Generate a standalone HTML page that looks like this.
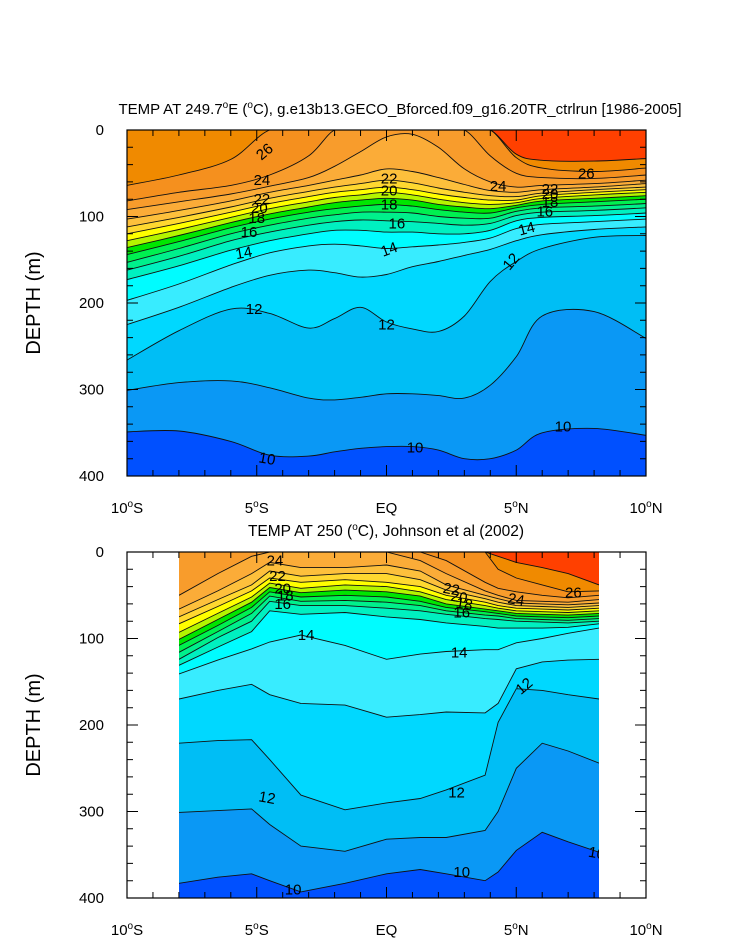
<!DOCTYPE html>
<html><head><meta charset="utf-8"><style>
html,body{margin:0;padding:0;background:#fff;}
svg{display:block;font-family:"Liberation Sans",sans-serif;}
</style></head><body>
<svg id="chart" width="733" height="945" viewBox="0 0 733 945" xmlns="http://www.w3.org/2000/svg">
<defs>
<clipPath id="clipTop"><rect x="127" y="130" width="519" height="346"/></clipPath>
<clipPath id="clipBot"><rect x="179" y="552" width="420" height="346"/></clipPath>
</defs>
<g id="topPlot"></g>
<g id="botPlot"></g>
<text x="400" y="114" font-size="15" text-anchor="middle">TEMP AT 249.7<tspan dy="-6" font-size="10">o</tspan><tspan dy="6">E (</tspan><tspan dy="-6" font-size="10">o</tspan><tspan dy="6">C), g.e13b13.GECO_Bforced.f09_g16.20TR_ctrlrun [1986-2005]</tspan></text>
<text x="386" y="536" font-size="15.5" text-anchor="middle">TEMP AT 250 (<tspan dy="-6" font-size="10">o</tspan><tspan dy="6">C), Johnson et al (2002)</tspan></text>
<text x="0" y="0" font-size="20" text-anchor="middle" transform="translate(40,303) rotate(-90)">DEPTH (m)</text>
<text x="0" y="0" font-size="20" text-anchor="middle" transform="translate(40,725) rotate(-90)">DEPTH (m)</text>
</svg>
<script>
// ---- data ----
const levels = [10,11,12,13,14,15,16,17,18,19,20,21,22,23,24,25,26,27];
const bandColors = ["#0a98f5","#00bef5","#00d8ff","#38ecff","#00fcff","#00f0c0","#00f08c","#00f050","#00e600","#b4f500","#ffff00","#ffd830","#fdc03c","#fbac38","#f89c2c","#f5901e","#f08a00","#ff4000"];
const coldColor = "#0050ff";
const xTicks = ["10\u00b0S","5\u00b0S","EQ","5\u00b0N","10\u00b0N"];
const xTickLats = [-10,-5,0,5,10];
const yTicks = [0,100,200,300,400];

const topLats = [-10,-8,-6,-4.5,-3,-2,-1,0,1,2,3,4,5,6,8,10];
const top10 = [349,348,360,376,377,372,368,366,366,370,380,380,370,350,345,353];
const top11 = [301,292,290,298,310,312,309,305,305,307,310,295,262,215,210,241];
const top12 = [266,232,207,212,229,218,205,222,230,233,215,175,152,137,124,122];
const top13 = [225,205,182,168,162,165,170,167,158,152,145,138,128,121,115,112];
const top14 = [197,178,156,142,134,132,134,137,135,133,130,125,114,109,106,103];
const top15 = [173,157,139,128,120,116,116,118,118,120,120,116,105,101,99,96];
const top16 = [162,146,128,118,110,106,104,105,106,108,110,108,99,95,93,90];
const top17 = [153,137,120,110,102,98,95,95,96,100,102,102,94,90,88,85];
const top18 = [144,129,113,103,95,91,88,86,88,92,95,96,90,86,83,80];
const top19 = [136,122,107,97,89,84,81,79,81,86,89,91,87,82,79,76];
const top20 = [128,115,101,91,83,78,75,72,75,80,84,86,84,79,75,72];
const top21 = [120,108,95,85,77,72,69,66,69,74,78,81,81,76,72,69];
const top22 = [112,101,89,79,71,66,62,58,61,67,72,76,77,73,69,66];
const top23 = [103,93,82,72,64,58,52,45,48,55,63,70,72,69,66,62];
const top24 = [92,83,74,65,55,42,25,8,5,20,45,60,66,64,62,58];
const top25 = [82,72,64,52,30,0,0,0,0,0,0,30,50,55,56,52];
const top26 = [64,52,34,0,0,0,0,0,0,0,0,0,32,44,48,44];
const top27 = [0,0,0,0,0,0,0,0,0,0,0,0,28,35,36,33];
const topIso = [top10,top11,top12,top13,top14,top15,top16,top17,top18,top19,top20,top21,top22,top23,top24,top25,top26,top27];

const botLats = [-8,-6.5,-5.2,-4.5,-3.3,-1.6,0,1.3,2.3,3.8,4.3,5,6,7,8.2];
const bot10 = [383,376,372,380,393,383,372,367,372,380,370,345,324,335,347];
const bot11 = [301,299,297,315,340,346,332,330,330,322,300,250,221,230,244];
const bot12 = [221,218,217,240,281,298,290,285,275,258,197,158,160,165,170];
const bot13 = [170,160,153,165,175,177,191,188,185,186,175,135,127,125,124];
const bot14 = [141,125,112,104,96,108,124,118,115,113,113,105,100,94,88];
const bot15 = [131,110,92,68,72,70,75,78,82,86,88,88,88,87,83];
const bot16 = [124,99,80,57,62,62,65,68,72,77,78,80,81,82,80];
const bot17 = [116,92,71,51,57,56,58,62,68,73,74,77,78,79,77];
const bot18 = [108,85,64,46,52,50,52,57,64,69,71,74,75,76,74];
const bot19 = [101,78,58,41,47,44,46,51,60,66,68,71,72,73,71];
const bot20 = [93,71,52,36,42,38,40,46,55,62,65,68,69,70,68];
const bot21 = [83,63,45,30,35,32,35,40,50,58,62,65,66,67,65];
const bot22 = [75,55,38,22,28,25,25,32,44,54,58,62,63,64,62];
const bot23 = [66,45,25,12,18,18,15,22,38,50,54,59,60,61,59];
const bot24 = [50,25,5,0,0,0,0,10,25,45,50,56,57,58,55];
const bot25 = [0,0,0,0,0,0,0,0,10,35,42,46,50,53,50];
const bot26 = [0,0,0,0,0,0,0,0,0,0,20,30,38,46,45];
const bot27 = [0,0,0,0,0,0,0,0,0,0,5,12,18,25,38];
const botIso = [bot10,bot11,bot12,bot13,bot14,bot15,bot16,bot17,bot18,bot19,bot20,bot21,bot22,bot23,bot24,bot25,bot26,bot27];

const topLabels = [["26",-4.7,25,-40],["24",-4.8,58,0],["22",-4.8,80,0],["20",-4.9,90,0],["18",-5,102,0],["16",-5.3,118,0],["14",-5.5,142,-10],["12",-5.1,207,0],["22",0.1,56,0],["20",0.1,70,0],["18",0.1,86,0],["16",0.4,108,0],["14",0.1,138,-20],["12",0,225,0],["24",4.3,65,0],["22",6.3,68,0],["20",6.3,74,0],["18",6.3,83,0],["16",6.1,94,0],["14",5.4,114,-15],["12",4.8,152,-50],["26",7.7,50,0],["10",-4.6,380,10],["10",1.1,367,0],["10",6.8,343,0]];
const botLabels = [["24",-4.3,10,0],["22",-4.2,28,0],["20",-4,42,0],["18",-3.9,50,0],["16",-4,60,0],["14",-3.1,96,0],["14",2.8,116,0],["12",-4.6,284,10],["12",2.7,278,0],["10",-3.6,390,0],["10",2.9,370,0],["22",2.5,43,10],["20",2.8,52,10],["18",3,60,10],["16",2.9,70,0],["24",5,55,10],["26",7.2,47,0],["12",5.3,155,-40],["10",8.1,348,10]];

// ---- axes ----
const X0 = 127, X1 = 646;
function xScale(lat){ return X0 + (lat + 10) * (X1 - X0) / 20; }
function yScaleFactory(top){ return d => top + d * 346 / 400; }

const NS = "http://www.w3.org/2000/svg";
function mk(tag, parent){ const e = document.createElementNS(NS, tag); parent.appendChild(e); return e; }

function smoothPath(pts){
  let d = "";
  for (let i = 0; i < pts.length - 1; i++){
    const p0 = pts[Math.max(0,i-1)], p1 = pts[i], p2 = pts[i+1], p3 = pts[Math.min(pts.length-1,i+2)];
    const c1x = p1[0] + (p2[0]-p0[0])/6, c1y = p1[1] + (p2[1]-p0[1])/6;
    const c2x = p2[0] - (p3[0]-p1[0])/6, c2y = p2[1] - (p3[1]-p1[1])/6;
    d += ` C${c1x.toFixed(1)},${c1y.toFixed(1)} ${c2x.toFixed(1)},${c2y.toFixed(1)} ${p2[0].toFixed(1)},${p2[1].toFixed(1)}`;
  }
  return d;
}
function linePath(pts){ return pts.slice(1).map(p => ` L${p[0].toFixed(1)},${p[1].toFixed(1)}`).join(""); }

function drawPanel(g, lats, iso, top, clipId, smooth, labels, dataX0, dataX1){
  const yS = yScaleFactory(top);
  const cg = mk("g", g); cg.setAttribute("clip-path", `url(#${clipId})`);
  const bg = mk("rect", cg);
  
  
  bg.setAttribute("x", dataX0); bg.setAttribute("y", top); bg.setAttribute("width", dataX1 - dataX0); bg.setAttribute("height", 346); bg.setAttribute("fill", coldColor);
  const curves = [];
  levels.forEach((lv, k) => {
    const pts = lats.map((la, i) => [xScale(la), yS(iso[k][i])]);
    pts[0][0] = dataX0; pts[pts.length-1][0] = dataX1;
    const body = smooth ? smoothPath(pts) : linePath(pts);
    curves.push([pts, body]);
    const poly = mk("path", cg);
    
    
    poly.setAttribute("d", `M${dataX0},${top-5} L${pts[0][0]},${pts[0][1].toFixed(1)}${body} L${dataX1},${top-5} Z`);
    poly.setAttribute("fill", bandColors[k]);
  });
  levels.forEach((lv, k) => {
    const [pts, body] = curves[k];
    const ln = mk("path", cg);
    
    
    ln.setAttribute("d", `M${pts[0][0]},${pts[0][1].toFixed(1)}${body}`);
    ln.setAttribute("fill", "none"); ln.setAttribute("stroke", "#111"); ln.setAttribute("stroke-width", "0.9");
  });
  labels.forEach(lb => {
    const t = mk("text", cg);
    
    
    const x = xScale(lb[1]), y = yS(lb[2]);
    t.setAttribute("x", x); t.setAttribute("y", y + 5); t.setAttribute("font-size", "15"); t.setAttribute("text-anchor", "middle");
    if (lb[3]) t.setAttribute("transform", `rotate(${lb[3]},${x},${y})`);
    t.textContent = lb[0];
  });
  const fr = mk("rect", g);
  
  
  fr.setAttribute("x", X0); fr.setAttribute("y", top); fr.setAttribute("width", X1 - X0); fr.setAttribute("height", 346);
  fr.setAttribute("fill", "none"); fr.setAttribute("stroke", "#000"); fr.setAttribute("stroke-width", "1.2");
  let td = "";
  for (let la = -10; la <= 10; la++){
    const x = xScale(la), L = (la % 5 === 0) ? 11 : 6;
    td += `M${x},${top+346} v${-L} M${x},${top} v${L} `;
  }
  for (let d = 0; d <= 400; d += 20){
    const y = yS(d), L = (d % 100 === 0) ? 11 : 6;
    td += `M${X0},${y} h${L} M${X1},${y} h${-L} `;
  }
  const tk = mk("path", g);
  
  
  tk.setAttribute("d", td); tk.setAttribute("stroke", "#000"); tk.setAttribute("stroke-width", "1");
  xTicks.forEach((lab, i) => {
    const t = mk("text", g);
    
    
    t.setAttribute("x", xScale(xTickLats[i])); t.setAttribute("y", top + 346 + 37); t.setAttribute("font-size", "15"); t.setAttribute("text-anchor", "middle");
    const m = lab.match(/^(\d+)\u00b0(\w)$/);
    if (m){ t.innerHTML = `${m[1]}<tspan dy="-6" font-size="10">o</tspan><tspan dy="6">${m[2]}</tspan>`; }
    else t.textContent = lab;
  });
  yTicks.forEach(v => {
    const t = mk("text", g);
    
    
    t.setAttribute("x", 104); t.setAttribute("y", yS(v) + 5); t.setAttribute("font-size", "15"); t.setAttribute("text-anchor", "end");
    t.textContent = v;
  });
}
drawPanel(document.getElementById("topPlot"), topLats, topIso, 130, "clipTop", true, topLabels, 127, 646);
drawPanel(document.getElementById("botPlot"), botLats, botIso, 552, "clipBot", false, botLabels, 179, 599);
</script>
</body></html>
